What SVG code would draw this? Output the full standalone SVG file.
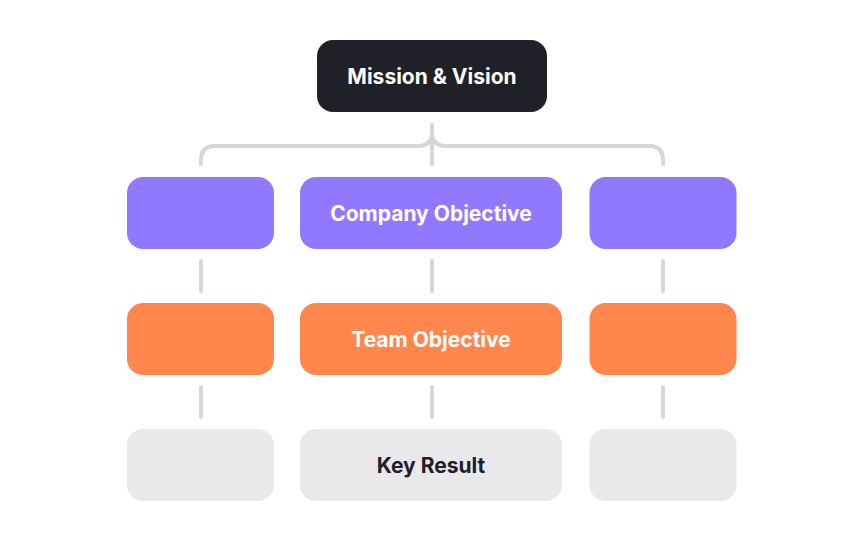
<svg xmlns="http://www.w3.org/2000/svg" width="864" height="540" viewBox="0 0 864 540">
<style>
.lbl{font-family:Inter,"Liberation Sans",sans-serif;font-weight:700;font-size:21px;text-anchor:middle}
.w{fill:#ffffff}
.d{fill:#1f2028}
.pur{fill:#9179ff}
.org{fill:#ff864d}
.gry{fill:#e9e9eb}
.con{fill:none;stroke:#d6d6d9;stroke-width:4;stroke-linecap:round;stroke-linejoin:round}
</style>
<rect width="864" height="540" fill="#ffffff"/>
<g id="connectors">
<path class="con" d="M201 164 V160 Q201 146 215 146 H418 Q432 146 432 132 Q432 146 446 146 H649 Q663 146 663 160 V164"/>
<path class="con" d="M432 125 V164"/>
<path class="con" d="M201 261 V291 M432 261 V291 M663 261 V291"/>
<path class="con" d="M201 387 V417 M432 387 V417 M663 387 V417"/>
</g>
<g id="mission">
<rect x="317" y="40" width="230" height="72" rx="16" class="d"/>
<text x="432" y="83.5" class="lbl w">Mission &amp; Vision</text>
</g>
<g id="obj-left"><rect x="127" y="177" width="147" height="72" rx="16" class="pur"/></g>
<g id="obj-company">
<rect x="300" y="177" width="262" height="72" rx="16" class="pur"/>
<text x="431" y="220.5" class="lbl w">Company Objective</text>
</g>
<g id="obj-right"><rect x="589.5" y="177" width="147" height="72" rx="16" class="pur"/></g>
<g id="team-left"><rect x="127" y="303" width="147" height="72" rx="16" class="org"/></g>
<g id="team-objective">
<rect x="300" y="303" width="262" height="72" rx="16" class="org"/>
<text x="431" y="346.5" class="lbl w">Team Objective</text>
</g>
<g id="team-right"><rect x="589.5" y="303" width="147" height="72" rx="16" class="org"/></g>
<g id="kr-left"><rect x="127" y="429" width="147" height="72" rx="16" class="gry"/></g>
<g id="key-result">
<rect x="300" y="429" width="262" height="72" rx="16" class="gry"/>
<text x="431" y="472.5" class="lbl d">Key Result</text>
</g>
<g id="kr-right"><rect x="589.5" y="429" width="147" height="72" rx="16" class="gry"/></g>
</svg>
